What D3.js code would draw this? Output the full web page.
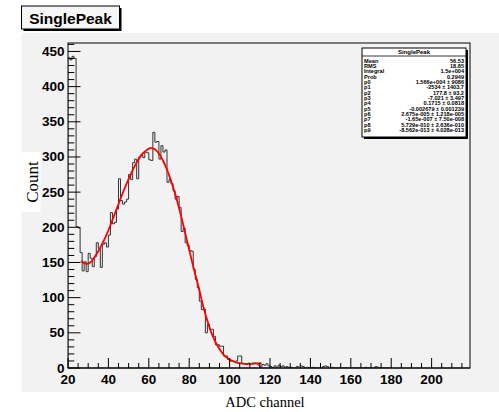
<!DOCTYPE html>
<html><head><meta charset="utf-8">
<script src="https://cdn.jsdelivr.net/npm/d3@7"></script>
<style>body{margin:0;background:#fff}svg{display:block}</style>
</head><body>
<svg id="c" width="499" height="412"></svg>
<script>
// ---- data ----
const binFirst = 20;           // lower edge of first bin (ADC channel)
const binWidth = 1;
const counts = [
 441,438,443,440,201,199,164,138,151,137,
 163,156,144,158,178,170,143,176,178,172,
 189,221,205,207,226,269,238,233,236,240,
 275,268,292,297,269,300,303,299,307,306,
 296,295,335,321,322,297,316,307,310,264,
 268,262,252,240,244,228,194,199,178,174,
 167,166,140,126,114,95,83,84,50,62,
 55,55,45,33,33,31,31,17,17,12,
 10,10,9,10,17,17,6,6,5,7,
 6,7,7,6,4,1,5,4,6,3,
 2,0,3,1,4,2,3,1,2,0,
 1,0,0,2,1,3,2,0,1,0,
 0,1,0,0,0,0,2,3,2,0,
 1,0,0,0,0,0,0,0,0,0,
 0,0,0,0,0,0,0,1,0,0,
 0,0,2,1,0,0,0,0,0,0
];
const fitX = [26.5,29,31,33,35,37,39,41,43,45,47,49,51,53,55,57,59,61,63,65,67,69,71,73,75,77,79,81,83,85,87,89,91,93,95,97,99,101,103,105,107,109,111,113,115.8];
const fitY = [152,148,150,157,166,177,189,203,218,233,248,262,275,287,297,305,310,313,311,305,295,282,266,248,227,204,180,156,133,111,87,67,50,37,27,19,14,10.5,8.5,7,6.3,6,6,6.5,7];
const xTicks = [20,40,60,80,100,120,140,160,180,200];
const yTicks = [0,50,100,150,200,250,300,350,400,450];
const xDomain = [20,219];
const yDomain = [0,462];
const titleText = "SinglePeak";
const statLabels = ["Mean","RMS","Integral","Prob","p0","p1","p2","p3","p4","p5","p6","p7","p8","p9"];
const statValues = ["56.53","18.85","1.5e+004","0.2949","1.566e+004 \u00b1 9086","-2534 \u00b1 1403.7","177.8 \u00b1 93.2","-7.021 \u00b1 3.497","0.1715 \u00b1 0.0818","-0.002679 \u00b1 0.001239","2.675e-005 \u00b1 1.218e-005","-1.65e-007 \u00b1 7.50e-008","5.729e-010 \u00b1 2.636e-010","-8.562e-013 \u00b1 4.028e-013"];
const xLabel = "ADC channel";
const yLabel = "Count";

// ---- layout ----
const svg = d3.select("#c");
const L = 68, R = 470, T = 43, B = 368;
const x = d3.scaleLinear().domain(xDomain).range([L, R]);
const y = d3.scaleLinear().domain(yDomain).range([B, T]);
const sans = "'Liberation Sans', Arial, sans-serif";
const serif = "'Liberation Serif', 'Times New Roman', serif";

// pad background
svg.append("rect").attr("x",21.5).attr("y",33).attr("width",499-21.5).attr("height",392-33).attr("fill","#f2f2f2");

// frame
svg.append("rect").attr("x",L).attr("y",T).attr("width",R-L).attr("height",B-T)
  .attr("fill","none").attr("stroke","#000").attr("stroke-width",1);

// histogram outline
svg.append("clipPath").attr("id","fr").append("rect")
  .attr("x",L).attr("y",T).attr("width",R-L).attr("height",B-T);
let p = d3.path();
p.moveTo(x(binFirst), y(0));
counts.forEach((v,i)=>{
  const x0 = binFirst + i*binWidth;
  p.lineTo(x(x0), y(v));
  p.lineTo(x(x0+binWidth), y(v));
});
p.lineTo(x(binFirst+counts.length*binWidth), y(0));
svg.append("path").attr("d",p.toString()).attr("fill","none")
  .attr("stroke","#333").attr("stroke-width",1).attr("clip-path","url(#fr)");

// fit curve
const line = d3.line().x((d,i)=>x(fitX[i])).y(d=>y(d)).curve(d3.curveCatmullRom.alpha(0.5));
svg.append("path").attr("d",line(fitY)).attr("fill","none").attr("stroke","#ff0000").attr("stroke-width",1.8);

// axes
const gx = svg.append("g");
gx.append("line").attr("x1",L).attr("x2",R).attr("y1",B).attr("y2",B).attr("stroke","#000");
const xMinor = d3.range(xDomain[0], xDomain[1], 5);
gx.selectAll("line.mn").data(xMinor).join("line").attr("class","mn")
  .attr("x1",d=>x(d)).attr("x2",d=>x(d)).attr("y1",B).attr("y2",d=> d%20===0 ? B-10 : B-5)
  .attr("stroke","#000").attr("stroke-width",1);
gx.selectAll("text").data(xTicks).join("text")
  .attr("x",d=>x(d)).attr("y",383.5).attr("text-anchor","middle")
  .attr("font-family",sans).attr("font-weight","bold").attr("font-size",13.5).text(d=>d);

const gy = svg.append("g");
const yMinor = d3.range(0, yDomain[1], 10);
gy.selectAll("line.mn").data(yMinor).join("line").attr("class","mn")
  .attr("x1",L).attr("x2",d=> d%50===0 ? L+12.5 : L+6.3).attr("y1",d=>y(d)).attr("y2",d=>y(d))
  .attr("stroke","#000").attr("stroke-width",1);
gy.selectAll("text").data(yTicks).join("text")
  .attr("x",64.5).attr("y",d=>y(d)+4.5).attr("text-anchor","end")
  .attr("font-family",sans).attr("font-weight","bold").attr("font-size",13.5).text(d=>d);

// axis titles (white backgrounds)
svg.append("rect").attr("x",21.5).attr("y",152).attr("width",19).attr("height",60).attr("fill","#fff");
svg.append("text").attr("transform","translate(38,182) rotate(-90)").attr("text-anchor","middle")
  .attr("font-family",serif).attr("font-size",17).text(yLabel);
svg.append("text").attr("x",265).attr("y",407).attr("text-anchor","middle")
  .attr("font-family",serif).attr("font-size",14.5).text(xLabel);

// title box
svg.append("rect").attr("x",23.5).attr("y",8).attr("width",98).attr("height",23).attr("fill","#000");
svg.append("rect").attr("x",21.5).attr("y",6).attr("width",98).attr("height",23).attr("fill","#f6f6f6").attr("stroke","#000");
svg.append("text").attr("x",70.5).attr("y",23.5).attr("text-anchor","middle")
  .attr("font-family",sans).attr("font-weight","bold").attr("font-size",15.5).text(titleText);

// stats box
const sx = 362, sy = 48, sw = 104, sh = 89;
svg.append("rect").attr("x",sx+2).attr("y",sy+2).attr("width",sw).attr("height",sh).attr("fill","#000");
svg.append("rect").attr("x",sx).attr("y",sy).attr("width",sw).attr("height",sh).attr("fill","#fff").attr("stroke","#000");
svg.append("line").attr("x1",sx).attr("x2",sx+sw).attr("y1",sy+8).attr("y2",sy+8).attr("stroke","#000").attr("stroke-width",0.8);
svg.append("text").attr("x",sx+sw/2).attr("y",sy+6.3).attr("text-anchor","middle")
  .attr("font-family",sans).attr("font-weight","bold").attr("font-size",6).text(titleText);
const rowY = i => 62.8 + i*5.33;
svg.selectAll("text.sl").data(statLabels).join("text").attr("class","sl")
  .attr("x",sx+2).attr("y",(d,i)=>rowY(i)).attr("font-family",sans).attr("font-weight","bold").attr("font-size",5.6).text(d=>d);
svg.selectAll("text.sv").data(statValues).join("text").attr("class","sv")
  .attr("x",sx+sw-2).attr("y",(d,i)=>rowY(i)).attr("text-anchor","end").attr("font-family",sans).attr("font-weight","bold").attr("font-size",5.6).text(d=>d);
</script>
</body></html>
